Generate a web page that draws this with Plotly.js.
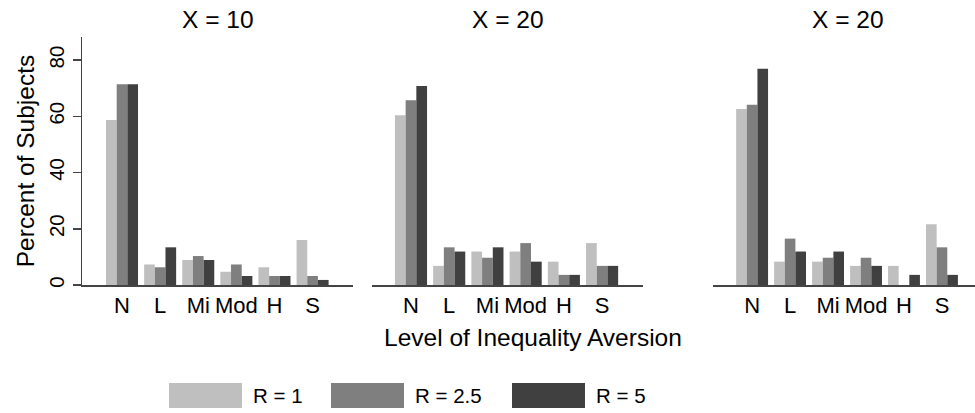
<!DOCTYPE html>
<html>
<head>
<meta charset="utf-8">
<script src="https://cdn.plot.ly/plotly-3.0.1.min.js"></script>
<style>
html,body{margin:0;padding:0;background:#fff;overflow:hidden;}
#chart{width:975px;height:413px;}
</style>
</head>
<body>
<div id="chart"></div>
<script>
// ---- data ----
const categories = ['N', 'L', 'Mi', 'Mod', 'H', 'S'];
const panelTitles = ['X = 10', 'X = 20', 'X = 20'];
const seriesNames = ['R = 1', 'R = 2.5', 'R = 5'];
const xAxisTitle = 'Level of Inequality Aversion';
const yAxisTitle = 'Percent of Subjects';
const yTicks = [0, 20, 40, 60, 80];

// panel 1 (X = 10)
const p1_R1  = [58.7, 7.3, 8.9, 4.7, 6.3, 16.0];
const p1_R25 = [71.4, 6.3, 10.3, 7.3, 3.2, 3.2];
const p1_R5  = [71.4, 13.4, 8.9, 3.2, 3.2, 1.8];
// panel 2 (X = 20)
const p2_R1  = [60.4, 6.8, 11.9, 11.9, 8.3, 14.9];
const p2_R25 = [65.7, 13.4, 9.7, 14.9, 3.6, 6.8];
const p2_R5  = [70.8, 11.9, 13.4, 8.3, 3.6, 6.8];
// panel 3 (X = 20)
const p3_R1  = [62.6, 8.3, 8.3, 6.8, 6.8, 21.6];
const p3_R25 = [64.1, 16.5, 9.7, 9.7, 0, 13.4];
const p3_R5  = [76.9, 11.9, 11.9, 6.8, 3.6, 3.6];

const panels = [[p1_R1, p1_R25, p1_R5], [p2_R1, p2_R25, p2_R5], [p3_R1, p3_R25, p3_R5]];
const colors = ['#bfbfbf', '#7f7f7f', '#404040'];

// ---- layout geometry ----
const W = 975, H = 413;
const FONT = 'Liberation Sans, Arial, Helvetica, sans-serif';
const xDomains = [[82 / W, 353 / W], [372 / W, 643 / W], [713 / W, 1]];
const xRanges = [[-1.05, 6.06], [-1.02, 6.07], [-1.03, 5.87]];
const yDomain = [(H - 285) / H, (H - 37) / H];
const yRange = [0, 88.2];

const traces = [];
panels.forEach((series, pi) => {
  series.forEach((vals, si) => {
    traces.push({
      type: 'bar',
      x: categories,
      y: vals,
      name: seriesNames[si],
      marker: {color: colors[si], line: {width: 0}},
      xaxis: pi === 0 ? 'x' : 'x' + (pi + 1),
      yaxis: pi === 0 ? 'y' : 'y' + (pi + 1),
      showlegend: false,
      hoverinfo: 'x+y+name'
    });
  });
});

const layout = {
  width: W, height: H,
  margin: {l: 0, r: 0, t: 0, b: 0},
  paper_bgcolor: '#fff', plot_bgcolor: 'rgba(0,0,0,0)',
  font: {family: FONT, size: 20, color: '#000'},
  barmode: 'group', bargap: 0.16, bargroupgap: 0,
  showlegend: false,
  annotations: [],
  shapes: []
};

for (let i = 0; i < 3; i++) {
  const xs = i === 0 ? 'xaxis' : 'xaxis' + (i + 1);
  const ys = i === 0 ? 'yaxis' : 'yaxis' + (i + 1);
  layout[xs] = {
    domain: xDomains[i], range: xRanges[i], type: 'category',
    anchor: i === 0 ? 'y' : 'y' + (i + 1),
    showline: true, linecolor: '#444', linewidth: 1.5,
    showgrid: false, zeroline: false, ticks: '', ticklen: 0,
    tickfont: {family: FONT, size: 22, color: '#000'},
    fixedrange: true
  };
  layout[ys] = {
    domain: yDomain, range: yRange,
    anchor: i === 0 ? 'x' : 'x' + (i + 1),
    showline: i === 0, linecolor: '#444', linewidth: 1.5,
    showgrid: false, zeroline: false,
    showticklabels: i === 0,
    ticks: i === 0 ? 'outside' : '', ticklen: 8, tickcolor: '#444', tickwidth: 1.5,
    tickvals: yTicks, tickangle: -90,
    tickfont: {family: FONT, size: 20.5, color: '#000'},
    fixedrange: true
  };
  layout.annotations.push({
    xref: 'paper', yref: 'paper',
    x: (xDomains[i][0] + (i === 2 ? 983 / W : xDomains[i][1])) / 2,
    y: (H - 20) / H,
    text: panelTitles[i], showarrow: false,
    xanchor: 'center', yanchor: 'middle',
    font: {family: FONT, size: 24.5, color: '#000'}
  });
}

layout.yaxis.title = {text: yAxisTitle, font: {family: FONT, size: 24.5, color: '#000'}, standoff: 3};

layout.annotations.push({
  xref: 'paper', yref: 'paper', x: (82 + 983) / 2 / W, y: (H - 337) / H,
  text: xAxisTitle, showarrow: false, xanchor: 'center', yanchor: 'middle',
  font: {family: FONT, size: 24.5, color: '#000'}
});

// legend: swatches and labels
const legX = [169, 331, 512];
seriesNames.forEach((nm, i) => {
  layout.shapes.push({
    type: 'rect', xref: 'paper', yref: 'paper',
    x0: legX[i] / W, x1: (legX[i] + 73) / W,
    y0: (H - 408) / H, y1: (H - 383) / H,
    fillcolor: colors[i], line: {width: 0}
  });
  layout.annotations.push({
    xref: 'paper', yref: 'paper', x: (legX[i] + 82) / W, y: (H - 395.5) / H,
    text: nm, showarrow: false, xanchor: 'left', yanchor: 'middle',
    font: {family: FONT, size: 20.5, color: '#000'}
  });
});

Plotly.newPlot('chart', traces, layout, {displayModeBar: false, staticPlot: true});
</script>
</body>
</html>
